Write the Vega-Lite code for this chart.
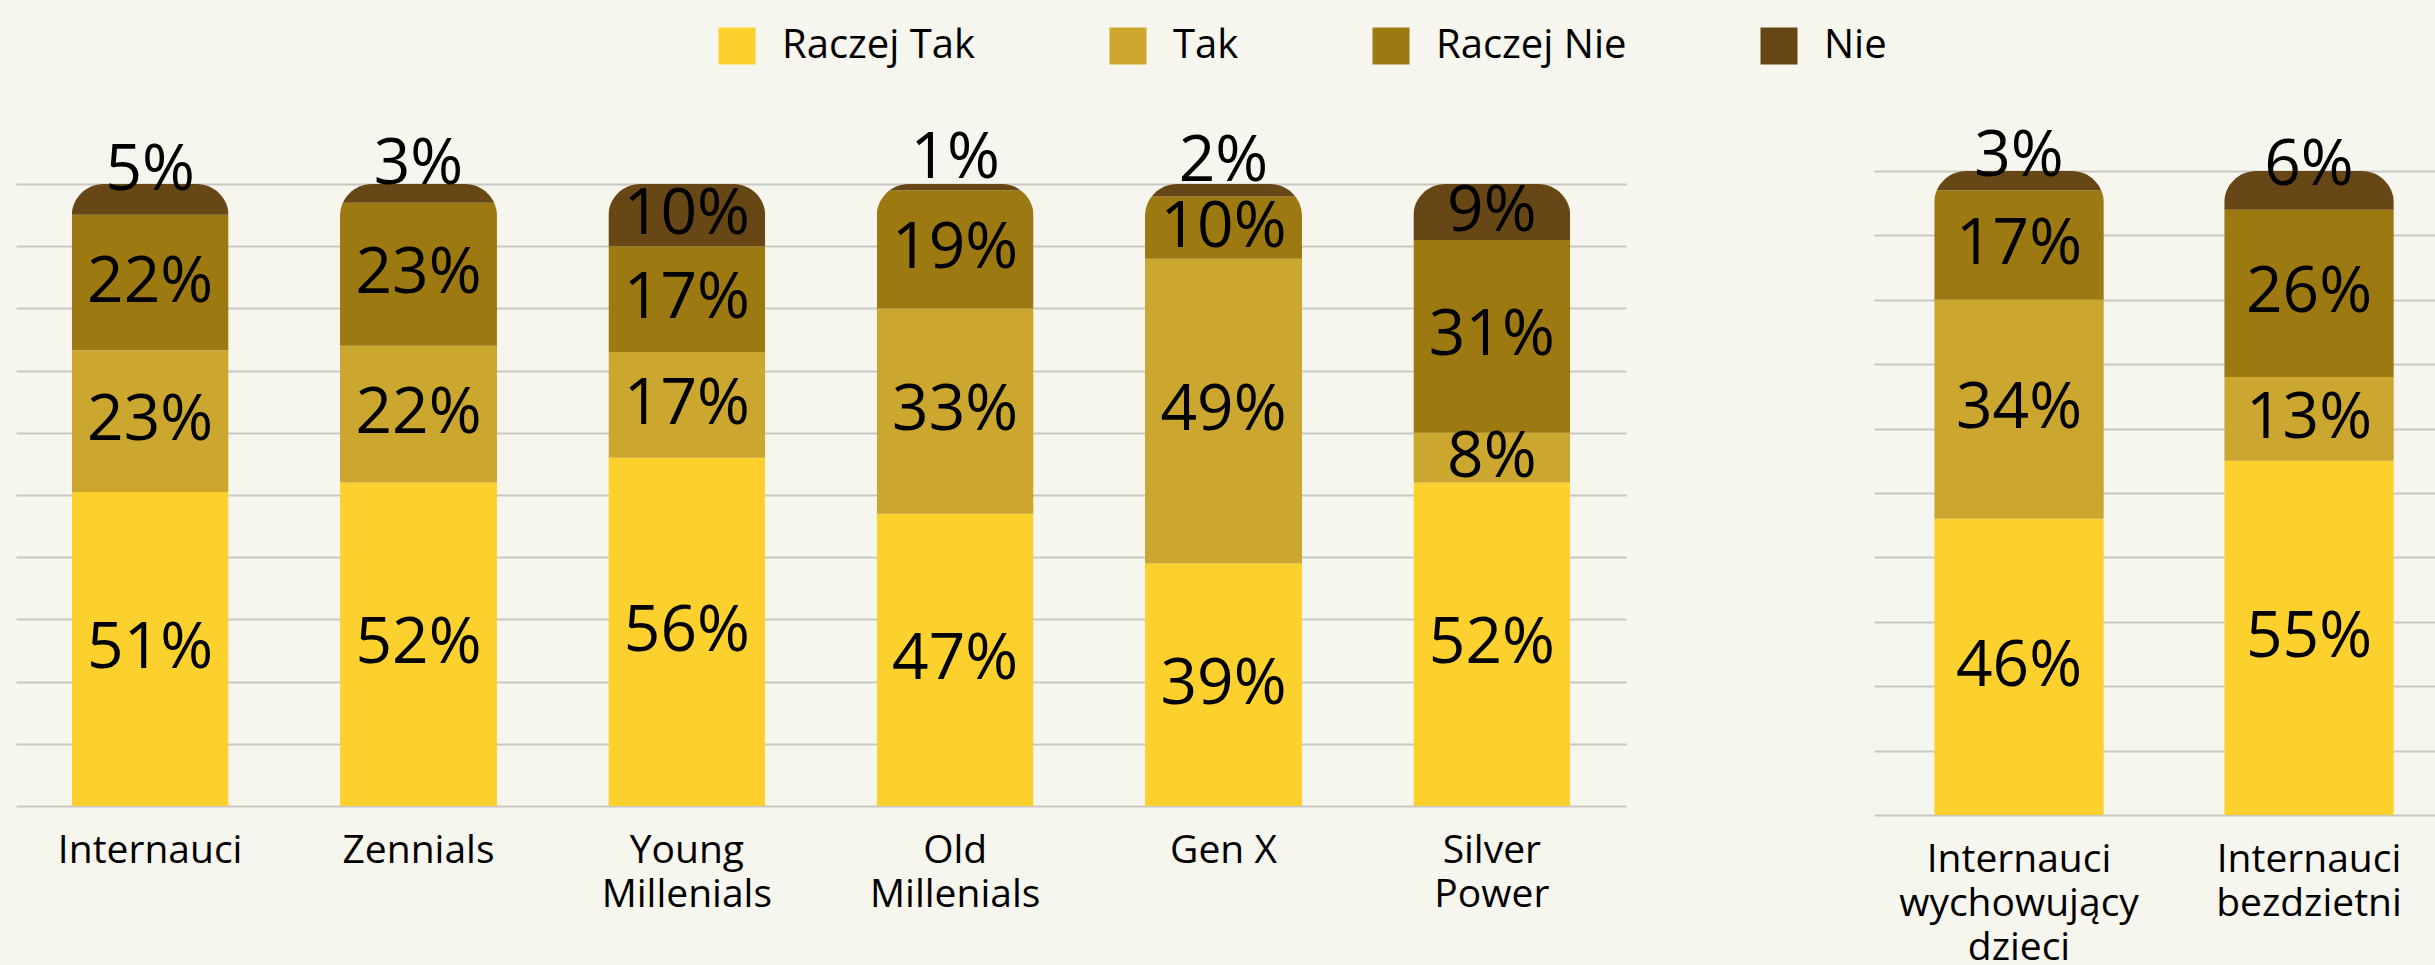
{
  "$schema": "https://vega.github.io/schema/vega-lite/v6.json",
  "background": "#F7F6EE",
  "padding": {"left": 16, "top": 26, "right": 0, "bottom": 0},
  "spacing": 248,
  "config": {
    "view": {"stroke": null},
    "font": "Open Sans",
    "axis": {"labelFont": "Open Sans", "labelColor": "#000000"}
  },
  "data": {
    "values": [
      {"panel": "L", "group": "Internauci", "answer": "Raczej Tak", "ord": 1, "value": 0.51},
      {"panel": "L", "group": "Internauci", "answer": "Tak", "ord": 2, "value": 0.23},
      {"panel": "L", "group": "Internauci", "answer": "Raczej Nie", "ord": 3, "value": 0.22},
      {"panel": "L", "group": "Internauci", "answer": "Nie", "ord": 4, "value": 0.05},
      {"panel": "L", "group": "Zennials", "answer": "Raczej Tak", "ord": 1, "value": 0.52},
      {"panel": "L", "group": "Zennials", "answer": "Tak", "ord": 2, "value": 0.22},
      {"panel": "L", "group": "Zennials", "answer": "Raczej Nie", "ord": 3, "value": 0.23},
      {"panel": "L", "group": "Zennials", "answer": "Nie", "ord": 4, "value": 0.03},
      {"panel": "L", "group": "Young Millenials", "answer": "Raczej Tak", "ord": 1, "value": 0.56},
      {"panel": "L", "group": "Young Millenials", "answer": "Tak", "ord": 2, "value": 0.17},
      {"panel": "L", "group": "Young Millenials", "answer": "Raczej Nie", "ord": 3, "value": 0.17},
      {"panel": "L", "group": "Young Millenials", "answer": "Nie", "ord": 4, "value": 0.10},
      {"panel": "L", "group": "Old Millenials", "answer": "Raczej Tak", "ord": 1, "value": 0.47},
      {"panel": "L", "group": "Old Millenials", "answer": "Tak", "ord": 2, "value": 0.33},
      {"panel": "L", "group": "Old Millenials", "answer": "Raczej Nie", "ord": 3, "value": 0.19},
      {"panel": "L", "group": "Old Millenials", "answer": "Nie", "ord": 4, "value": 0.01},
      {"panel": "L", "group": "Gen X", "answer": "Raczej Tak", "ord": 1, "value": 0.39},
      {"panel": "L", "group": "Gen X", "answer": "Tak", "ord": 2, "value": 0.49},
      {"panel": "L", "group": "Gen X", "answer": "Raczej Nie", "ord": 3, "value": 0.10},
      {"panel": "L", "group": "Gen X", "answer": "Nie", "ord": 4, "value": 0.02},
      {"panel": "L", "group": "Silver Power", "answer": "Raczej Tak", "ord": 1, "value": 0.52},
      {"panel": "L", "group": "Silver Power", "answer": "Tak", "ord": 2, "value": 0.08},
      {"panel": "L", "group": "Silver Power", "answer": "Raczej Nie", "ord": 3, "value": 0.31},
      {"panel": "L", "group": "Silver Power", "answer": "Nie", "ord": 4, "value": 0.09},
      {"panel": "R", "group": "Internauci wychowujący dzieci", "answer": "Raczej Tak", "ord": 1, "value": 0.46},
      {"panel": "R", "group": "Internauci wychowujący dzieci", "answer": "Tak", "ord": 2, "value": 0.34},
      {"panel": "R", "group": "Internauci wychowujący dzieci", "answer": "Raczej Nie", "ord": 3, "value": 0.17},
      {"panel": "R", "group": "Internauci wychowujący dzieci", "answer": "Nie", "ord": 4, "value": 0.03},
      {"panel": "R", "group": "Internauci bezdzietni", "answer": "Raczej Tak", "ord": 1, "value": 0.55},
      {"panel": "R", "group": "Internauci bezdzietni", "answer": "Tak", "ord": 2, "value": 0.13},
      {"panel": "R", "group": "Internauci bezdzietni", "answer": "Raczej Nie", "ord": 3, "value": 0.26},
      {"panel": "R", "group": "Internauci bezdzietni", "answer": "Nie", "ord": 4, "value": 0.06}
    ]
  },
  "hconcat": [
    {
      "width": 1610,
      "height": 635,
      "transform": [{"filter": "datum.panel == 'L'"}],
      "encoding": {
        "x": {"field": "group", "type": "nominal", "sort": null,
          "scale": {"paddingInner": 0.415, "paddingOuter": 0.2075},
          "axis": {"title": null, "labelAngle": 0, "labelFontSize": 39, "labelPadding": 25, "labelLineHeight": 44, "labelLimit": 500, "ticks": false, "domain": false, "grid": false,
            "labelExpr": "datum.value == 'Gen X' ? datum.value : split(datum.value, ' ')"}},
        "order": {"field": "ord", "type": "quantitative"}
      },
      "layer": [
        {
          "mark": {"type": "bar", "cornerRadiusTopLeft": 32, "cornerRadiusTopRight": 32},
          "encoding": {
            "y": {"field": "value", "type": "quantitative", "stack": "normalize",
              "scale": {"domain": [0, 1.0209], "nice": false},
              "axis": {"title": null, "labels": false, "ticks": false, "domain": false, "grid": true, "gridColor": "#C9C7C3", "gridWidth": 2, "minExtent": 0, "values": [0, 0.1, 0.2, 0.3, 0.4, 0.5, 0.6, 0.7, 0.8, 0.9, 1.0]}},
            "color": {"field": "answer", "type": "nominal",
              "scale": {"domain": ["Raczej Tak", "Tak", "Raczej Nie", "Nie"], "range": ["#FDD12D", "#CBA730", "#9D7A11", "#674716"]},
              "legend": {"title": null, "orient": "none", "direction": "horizontal", "legendX": 701, "legendY": -145, "symbolType": "square", "symbolSize": 1369, "symbolStrokeWidth": 0, "symbolOpacity": 1, "labelFont": "Open Sans", "labelFontSize": 40, "labelColor": "#000000", "labelOffset": 25, "columnPadding": 132, "padding": 0, "labelLimit": 400}}
          }
        },
        {
          "mark": {"type": "text", "font": "Open Sans", "fontSize": 64, "color": "#000000", "baseline": "middle", "align": "center"},
          "encoding": {
            "y": {"field": "value", "type": "quantitative", "stack": "normalize", "bandPosition": 0.5,
              "scale": {"domain": [0, 1.0209], "nice": false},
              "axis": {"title": null, "labels": false, "ticks": false, "domain": false, "grid": true, "gridColor": "#C9C7C3", "gridWidth": 2, "minExtent": 0, "values": [0, 0.1, 0.2, 0.3, 0.4, 0.5, 0.6, 0.7, 0.8, 0.9, 1.0]}},
            "text": {"condition": {"test": "datum.answer == 'Nie' && datum.value < 0.08", "value": ""}, "field": "value", "type": "quantitative", "format": ".0%"}
          }
        },
        {
          "mark": {"type": "text", "font": "Open Sans", "fontSize": 64, "color": "#000000", "baseline": "middle", "align": "center", "dy": -28},
          "encoding": {
            "y": {"field": "value", "type": "quantitative", "stack": "normalize", "bandPosition": 0.5,
              "scale": {"domain": [0, 1.0209], "nice": false},
              "axis": {"title": null, "labels": false, "ticks": false, "domain": false, "grid": true, "gridColor": "#C9C7C3", "gridWidth": 2, "minExtent": 0, "values": [0, 0.1, 0.2, 0.3, 0.4, 0.5, 0.6, 0.7, 0.8, 0.9, 1.0]}},
            "text": {"condition": {"test": "!(datum.answer == 'Nie' && datum.value < 0.08)", "value": ""}, "field": "value", "type": "quantitative", "format": ".0%"}
          }
        }
      ]
    },
    {
      "width": 580,
      "height": 644,
      "transform": [{"filter": "datum.panel == 'R'"}],
      "encoding": {
        "x": {"field": "group", "type": "nominal", "sort": null,
          "scale": {"paddingInner": 0.415, "paddingOuter": 0.2075},
          "axis": {"title": null, "labelAngle": 0, "labelFontSize": 39, "labelPadding": 25, "labelLineHeight": 44, "labelLimit": 500, "ticks": false, "domain": false, "grid": false,
            "labelExpr": "split(datum.value, ' ')"}},
        "order": {"field": "ord", "type": "quantitative"}
      },
      "layer": [
        {
          "mark": {"type": "bar", "cornerRadiusTopLeft": 32, "cornerRadiusTopRight": 32},
          "encoding": {
            "y": {"field": "value", "type": "quantitative", "stack": "normalize",
              "scale": {"domain": [0, 1], "nice": false},
              "axis": {"title": null, "labels": false, "ticks": false, "domain": false, "grid": true, "gridColor": "#C9C7C3", "gridWidth": 2, "minExtent": 0, "values": [0, 0.1, 0.2, 0.3, 0.4, 0.5, 0.6, 0.7, 0.8, 0.9, 1.0]}},
            "color": {"field": "answer", "type": "nominal",
              "scale": {"domain": ["Raczej Tak", "Tak", "Raczej Nie", "Nie"], "range": ["#FDD12D", "#CBA730", "#9D7A11", "#674716"]},
              "legend": {"title": null, "orient": "none", "direction": "horizontal", "legendX": 701, "legendY": -145, "symbolType": "square", "symbolSize": 1369, "symbolStrokeWidth": 0, "symbolOpacity": 1, "labelFont": "Open Sans", "labelFontSize": 40, "labelColor": "#000000", "labelOffset": 25, "columnPadding": 132, "padding": 0, "labelLimit": 400}}
          }
        },
        {
          "mark": {"type": "text", "font": "Open Sans", "fontSize": 64, "color": "#000000", "baseline": "middle", "align": "center"},
          "encoding": {
            "y": {"field": "value", "type": "quantitative", "stack": "normalize", "bandPosition": 0.5,
              "scale": {"domain": [0, 1], "nice": false},
              "axis": {"title": null, "labels": false, "ticks": false, "domain": false, "grid": true, "gridColor": "#C9C7C3", "gridWidth": 2, "minExtent": 0, "values": [0, 0.1, 0.2, 0.3, 0.4, 0.5, 0.6, 0.7, 0.8, 0.9, 1.0]}},
            "text": {"condition": {"test": "datum.answer == 'Nie' && datum.value < 0.08", "value": ""}, "field": "value", "type": "quantitative", "format": ".0%"}
          }
        },
        {
          "mark": {"type": "text", "font": "Open Sans", "fontSize": 64, "color": "#000000", "baseline": "middle", "align": "center", "dy": -24},
          "encoding": {
            "y": {"field": "value", "type": "quantitative", "stack": "normalize", "bandPosition": 0.5,
              "scale": {"domain": [0, 1], "nice": false},
              "axis": {"title": null, "labels": false, "ticks": false, "domain": false, "grid": true, "gridColor": "#C9C7C3", "gridWidth": 2, "minExtent": 0, "values": [0, 0.1, 0.2, 0.3, 0.4, 0.5, 0.6, 0.7, 0.8, 0.9, 1.0]}},
            "text": {"condition": {"test": "!(datum.answer == 'Nie' && datum.value < 0.08)", "value": ""}, "field": "value", "type": "quantitative", "format": ".0%"}
          }
        }
      ]
    }
  ],
  "resolve": {"scale": {"y": "independent"}}
}
